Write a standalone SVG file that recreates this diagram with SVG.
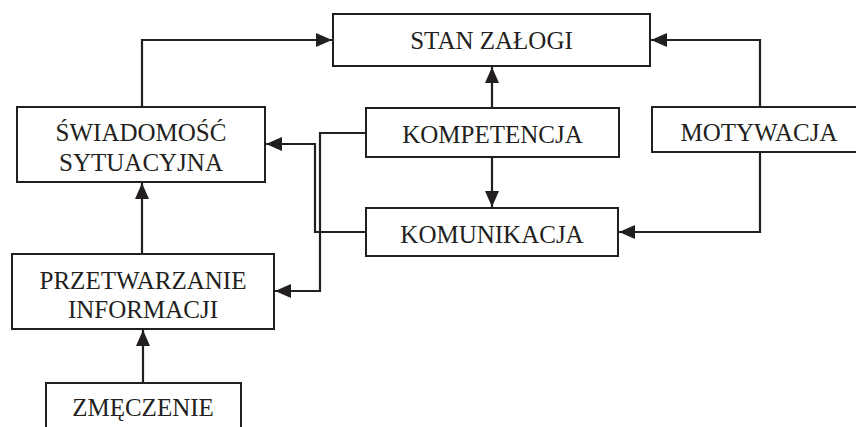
<svg xmlns="http://www.w3.org/2000/svg" width="856" height="427" viewBox="0 0 856 427">
<style>
.box{fill:#fff;stroke:#231f20;stroke-width:2}
.lbl{font-family:"Liberation Serif","Times New Roman",serif;font-size:25px;fill:#231f20;text-anchor:middle}
.con{fill:none;stroke:#231f20;stroke-width:2.2}
</style>
<defs>
<marker id="ah" markerUnits="userSpaceOnUse" markerWidth="17" markerHeight="15" refX="16" refY="7" orient="auto">
<path d="M0,0 L16,7 L0,14 z" fill="#231f20"/>
</marker>
</defs>
<rect width="856" height="427" fill="#fff"/>
<g id="connectors">
<path class="con" d="M142,107 V40 H332" marker-end="url(#ah)"/>
<path class="con" d="M760,107 V40 H651" marker-end="url(#ah)"/>
<path class="con" d="M492,108 V67" marker-end="url(#ah)"/>
<path class="con" d="M492,157 V207" marker-end="url(#ah)"/>
<path class="con" d="M760,152 V232 H619" marker-end="url(#ah)"/>
<path class="con" d="M366,133 H320 V291 H275" marker-end="url(#ah)"/>
<path class="con" d="M366,232 H315 V144 H266" marker-end="url(#ah)"/>
<path class="con" d="M142,254 V183" marker-end="url(#ah)"/>
<path class="con" d="M143,383 V330" marker-end="url(#ah)"/>
</g>
<g id="stan">
<rect class="box" x="333" y="14" width="317" height="52"/>
<text class="lbl" x="491.5" y="49">STAN ZAŁOGI</text>
</g>
<g id="swiadomosc">
<rect class="box" x="17" y="107" width="248" height="75"/>
<text class="lbl" x="141" y="141">ŚWIADOMOŚĆ</text>
<text class="lbl" x="141" y="171">SYTUACYJNA</text>
</g>
<g id="kompetencja">
<rect class="box" x="366" y="108" width="253" height="49"/>
<text class="lbl" x="492.5" y="143">KOMPETENCJA</text>
</g>
<g id="motywacja">
<rect class="box" x="652" y="107" width="220" height="45"/>
<text class="lbl" x="759" y="141">MOTYWACJA</text>
</g>
<g id="komunikacja">
<rect class="box" x="366" y="208" width="252" height="48"/>
<text class="lbl" x="492" y="243">KOMUNIKACJA</text>
</g>
<g id="przetwarzanie">
<rect class="box" x="12" y="254" width="262" height="75"/>
<text class="lbl" x="143" y="289">PRZETWARZANIE</text>
<text class="lbl" x="143" y="318">INFORMACJI</text>
</g>
<g id="zmeczenie">
<rect class="box" x="46" y="383" width="195" height="60"/>
<text class="lbl" x="143" y="416">ZMĘCZENIE</text>
</g>
</svg>
